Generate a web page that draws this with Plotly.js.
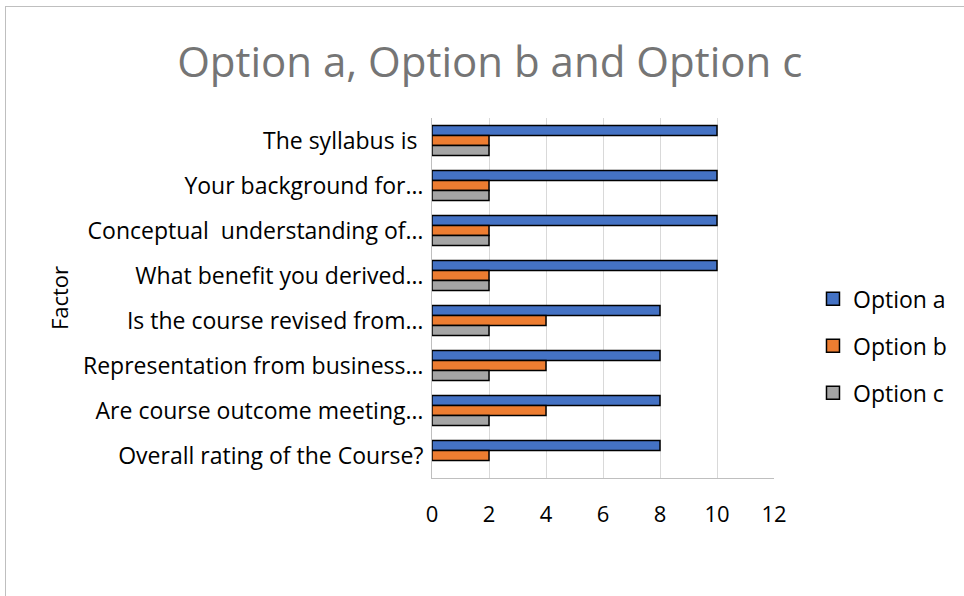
<!DOCTYPE html>
<html>
<head>
<meta charset="utf-8">
<script src="https://cdn.plot.ly/plotly-3.0.1.min.js"></script>
<style>
  html, body { margin: 0; padding: 0; background: #ffffff; }
  #wrap { position: relative; width: 964px; height: 596px; overflow: hidden; }
  #chart { position: absolute; left: 0; top: 0; width: 964px; height: 596px; }
  #frame { position: absolute; left: 5px; top: 6px; width: 1000px; height: 700px;
           border-left: 1px solid #bfbfbf; border-top: 1px solid #bfbfbf; pointer-events: none; }
</style>
</head>
<body>
<div id="wrap">
  <div id="chart"></div>
  <div id="frame"></div>
</div>
<script>
const categories = [
  "The syllabus is ",
  "Your background for…",
  "Conceptual\u00a0 understanding of…",
  "What benefit you derived…",
  "Is the course revised from…",
  "Representation from business…",
  "Are course outcome meeting…",
  "Overall rating of the Course?"
];
const optionA = [10, 10, 10, 10, 8, 8, 8, 8];
const optionB = [2, 2, 2, 2, 4, 4, 4, 2];
const optionC = [2, 2, 2, 2, 2, 2, 2, null];
const seriesNames = ["Option a", "Option b", "Option c"];
const xTicks = [0, 2, 4, 6, 8, 10, 12];

const colors = ["#4472c4", "#ed7d31", "#a5a5a5"];
const seriesValues = [optionA, optionB, optionC];

const barTraces = seriesValues.map((vals, i) => ({
  type: "bar",
  orientation: "h",
  name: seriesNames[i],
  x: vals,
  y: categories,
  legendgroup: "g" + i,
  showlegend: false,
  marker: { color: colors[i], line: { color: "#000000", width: 1.5 } },
  hoverinfo: "x+y+name"
}));

// legend entries with larger square swatches
const legendTraces = seriesNames.map((name, i) => ({
  type: "scatter",
  mode: "markers",
  name: name,
  x: [null],
  y: [null],
  legendgroup: "g" + i,
  showlegend: true,
  marker: { symbol: "square", size: 13, color: colors[i], line: { color: "#000000", width: 1.5 } },
  hoverinfo: "skip"
}));

const font = "'Open Sans', 'Noto Sans', 'Liberation Sans', sans-serif";

const layout = {
  width: 964,
  height: 596,
  margin: { l: 432, r: 190, t: 118, b: 118 },
  paper_bgcolor: "#ffffff",
  plot_bgcolor: "#ffffff",
  font: { family: font, color: "#000000", size: 20 },
  title: {
    text: "Option a, Option b and Option c",
    font: { family: font, size: 42, color: "#757575" },
    x: 0.508, xanchor: "center", xref: "container",
    y: 0.895, yanchor: "middle", yref: "container"
  },
  barmode: "group",
  bargap: 0.333,
  bargroupgap: 0,
  xaxis: {
    range: [0, 12],
    tickvals: xTicks,
    ticktext: xTicks.map(String),
    showgrid: true,
    gridcolor: "#d9d9d9",
    gridwidth: 1,
    zeroline: false,
    showline: true,
    linecolor: "#bfbfbf",
    linewidth: 1,
    ticks: "",
    ticklabelstandoff: 17,
    tickfont: { family: font, size: 22, color: "#000000" },
    fixedrange: true
  },
  yaxis: {
    type: "category",
    categoryorder: "array",
    categoryarray: categories,
    autorange: "reversed",
    showgrid: false,
    zeroline: false,
    showline: true,
    linecolor: "#bfbfbf",
    linewidth: 1,
    ticks: "",
    ticklabelstandoff: 3,
    tickfont: { family: font, size: 23, color: "#000000" },
    title: {
      text: "Factor",
      font: { family: font, size: 22, color: "#000000" },
      standoff: 0
    },
    automargin: false,
    fixedrange: true
  },
  showlegend: true,
  legend: {
    x: 1.114, xanchor: "left",
    y: 0.367, yanchor: "middle",
    font: { family: font, size: 23, color: "#000000" },
    tracegroupgap: 14,
    traceorder: "grouped",
    bgcolor: "rgba(0,0,0,0)",
    itemwidth: 30
  }
};

Plotly.newPlot("chart", barTraces.concat(legendTraces), layout, { displayModeBar: false, staticPlot: true }).then(() => {
  const yt = document.querySelector(".ytitle");
  if (yt) {
    yt.setAttribute("x", "68");
    yt.setAttribute("y", "298");
    yt.setAttribute("transform", "rotate(-90,68,298)");
  }
});
</script>
</body>
</html>
